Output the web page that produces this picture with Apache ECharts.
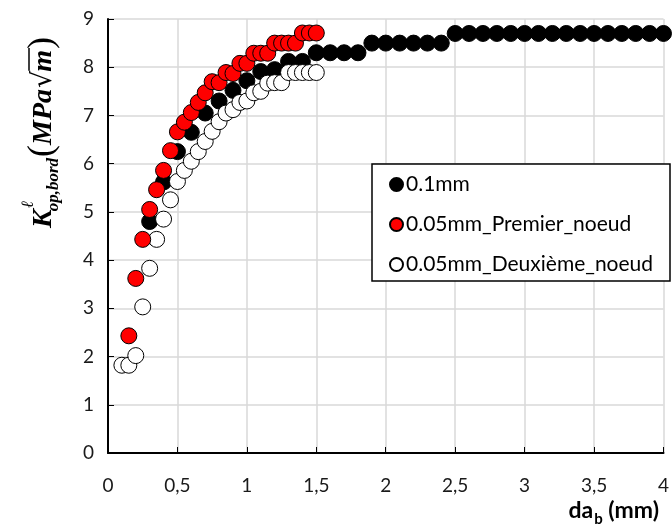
<!DOCTYPE html>
<html><head><meta charset="utf-8">
<script src="https://cdn.jsdelivr.net/npm/echarts@6/dist/echarts.min.js"></script>
<style>html,body{margin:0;padding:0;background:#fff}#c{width:672px;height:528px}</style>
</head><body><div id="c"></div>
<script>
// ---- data ----
const seriesNames = ['0.1mm', '0.05mm_Premier_noeud', '0.05mm_Deuxième_noeud'];
const xBlack = [0.3,0.4,0.5,0.6,0.7,0.8,0.9,1.0,1.1,1.2,1.3,1.4,1.5,1.6,1.7,1.8,1.9,2.0,2.1,2.2,2.3,2.4,2.5,2.6,2.7,2.8,2.9,3.0,3.1,3.2,3.3,3.4,3.5,3.6,3.7,3.8,3.9,4.0];
const yBlack = [4.80,5.62,6.25,6.65,7.05,7.30,7.52,7.72,7.91,7.95,8.12,8.12,8.30,8.30,8.30,8.30,8.50,8.50,8.50,8.50,8.50,8.50,8.70,8.70,8.70,8.70,8.70,8.70,8.70,8.70,8.70,8.70,8.70,8.70,8.70,8.70,8.70,8.70];
const xRed = [0.15,0.2,0.25,0.3,0.35,0.4,0.45,0.5,0.55,0.6,0.65,0.7,0.75,0.8,0.85,0.9,0.95,1.0,1.05,1.1,1.15,1.2,1.25,1.3,1.35,1.4,1.45,1.5];
const yRed = [2.43,3.62,4.43,5.05,5.46,5.86,6.27,6.66,6.86,7.06,7.27,7.47,7.70,7.68,7.89,7.87,8.08,8.08,8.29,8.29,8.29,8.50,8.50,8.50,8.50,8.71,8.71,8.71];
const xWhite = [0.1,0.15,0.2,0.25,0.3,0.35,0.4,0.45,0.5,0.55,0.6,0.65,0.7,0.75,0.8,0.85,0.9,0.95,1.0,1.05,1.1,1.15,1.2,1.25,1.3,1.35,1.4,1.45,1.5];
const yWhite = [1.82,1.82,2.02,3.03,3.83,4.43,4.85,5.25,5.63,5.86,6.05,6.25,6.46,6.67,6.87,7.05,7.12,7.27,7.30,7.47,7.50,7.67,7.68,7.68,7.89,7.89,7.89,7.89,7.89];
const xTicks = [0,0.5,1,1.5,2,2.5,3,3.5,4];
const yTicks = [0,1,2,3,4,5,6,7,8,9];

const zip = (xs, ys) => xs.map((x, i) => [x, ys[i]]);

// ---- helpers for the title text runs ----
const mctx = document.createElement('canvas').getContext('2d');
function run(parts) {
  let x = 0; const out = [];
  parts.forEach(p => {
    mctx.font = p.font;
    const w = mctx.measureText(p.t).width;
    const px = x + (p.dx || 0);
    out.push({type: 'text', x: px, y: p.dy || 0, style: {text: p.t, font: p.font, fill: '#000', verticalAlign: 'middle', align: 'left'}});
    if (p.over) out.push({type: 'line', shape: {x1: px + 1, y1: p.over, x2: px + w + 2, y2: p.over}, style: {stroke: '#000', lineWidth: 1.5}});
    if (!p.noAdv) x = px + w;
  });
  out.width = x;
  return out;
}
const SER = '"Liberation Serif", "DejaVu Serif", serif';
const yTitle = run([
  {t: 'K', font: 'bold italic 28px ' + SER, dy: 0},
  {t: 'ℓ', font: 'italic 17px ' + SER, dy: -15, dx: 1, noAdv: true},
  {t: 'op,bord', font: 'bold italic 17px ' + SER, dy: 10, dx: -2},
  {t: '(', font: 'normal 36px ' + SER, dy: -1, dx: 1},
  {t: 'MPa', font: 'bold italic 28px ' + SER, dy: 0},
  {t: '√', font: 'normal 27px "DejaVu Sans", sans-serif', dy: 0, dx: 1},
  {t: 'm', font: 'bold italic 28px ' + SER, dy: 0, dx: -1, over: -15},
  {t: ')', font: 'normal 36px ' + SER, dy: -1, dx: 1}
]);
const xTitle = run([
  {t: 'da', font: 'bold 23px Lato, sans-serif', dy: 0},
  {t: 'b', font: 'bold 15px Lato, sans-serif', dy: 8, dx: 1},
  {t: ' (mm)', font: 'bold 23px Lato, sans-serif', dy: 0}
]);

const chart = echarts.init(document.getElementById('c'), null, {renderer: 'canvas'});
const labelFont = {fontFamily: 'Lato, sans-serif', fontSize: 19, color: '#1a1a1a'};
const mk = (name, data, color, z) => ({
  name, type: 'scatter', data, symbol: 'circle', symbolSize: 16, z,
  itemStyle: {color, borderColor: '#000', borderWidth: 1, opacity: 1},
  emphasis: {disabled: true}, animation: false
});
chart.setOption({
  animation: false,
  backgroundColor: '#fff',
  grid: {left: 108, top: 19, width: 562, height: 434, containLabel: false},
  xAxis: {
    type: 'value', min: 0, max: 4, interval: 0.5,
    axisLine: {show: true, lineStyle: {color: '#000', width: 2}},
    axisTick: {show: true, inside: true, length: 6, lineStyle: {color: '#000', width: 1}},
    axisLabel: Object.assign({margin: 23, formatter: v => String(v).replace('.', ','), showMaxLabel: true}, labelFont),
    splitLine: {show: true, lineStyle: {color: '#d9d9d9', width: 1.5}}
  },
  yAxis: {
    type: 'value', min: 0, max: 9, interval: 1,
    axisLine: {show: true, lineStyle: {color: '#000', width: 2}},
    axisTick: {show: true, inside: true, length: 6, lineStyle: {color: '#000', width: 1}},
    axisLabel: Object.assign({margin: 14}, labelFont),
    splitLine: {show: true, lineStyle: {color: '#d9d9d9', width: 1.5}}
  },
  legend: {
    orient: 'vertical', left: 384, top: 169, z: 10,
    data: [seriesNames[0], seriesNames[1], seriesNames[2]],
    icon: 'circle', itemWidth: 13, itemHeight: 13, itemGap: 19,
    textStyle: {fontFamily: 'Lato, sans-serif', fontSize: 21, lineHeight: 20, color: '#000', padding: [0, 0, 0, -2]},
    selectedMode: false
  },
  graphic: [
    {type: 'rect', z: 5, shape: {x: 372, y: 164, width: 298, height: 117}, style: {fill: '#fff', stroke: '#000', lineWidth: 1.5}},
    {type: 'group', x: 44, y: 228, rotation: Math.PI / 2, children: yTitle},
    {type: 'group', x: 659 - xTitle.width, y: 511, children: xTitle}
  ],
  series: [
    mk(seriesNames[0], zip(xBlack, yBlack), '#000000', 2),
    mk(seriesNames[2], zip(xWhite, yWhite), '#ffffff', 3),
    mk(seriesNames[1], zip(xRed, yRed), '#ff0000', 4)
  ]
});
</script>
</body></html>
